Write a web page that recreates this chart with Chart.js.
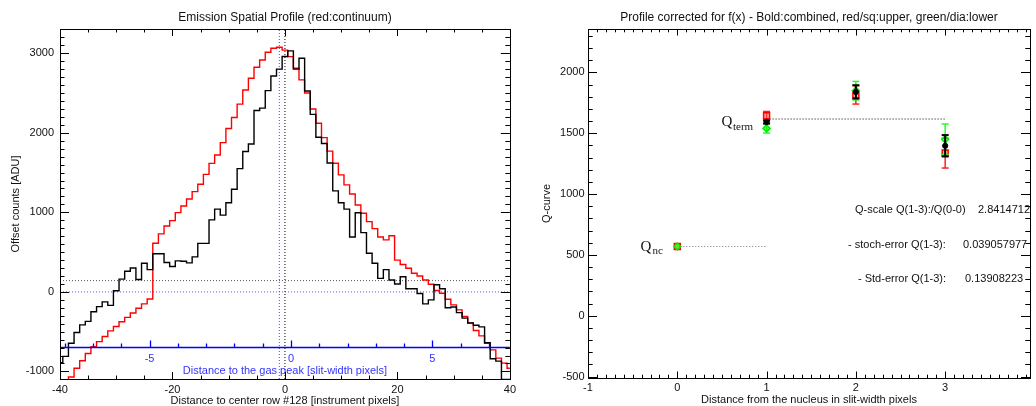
<!DOCTYPE html>
<html><head><meta charset="utf-8">
<script src="https://cdn.jsdelivr.net/npm/chart.js@4.4.1/dist/chart.umd.min.js"></script>
<style>
html,body{margin:0;padding:0;background:#fff;}
#wrap{position:relative;width:1036px;height:406px;overflow:hidden;background:#fff;}
#c1{position:absolute;left:0;top:0;}
#c2{position:absolute;left:520px;top:0;}
</style></head><body>
<div id="wrap"><canvas id="c1" width="520" height="406"></canvas><canvas id="c2" width="516" height="406"></canvas></div>
<script>
// ---------------- data: left panel ----------------
const rowOffsets = [-40,-39,-38,-37,-36,-35,-34,-33,-32,-31,-30,-29,-28,-27,-26,-25,-24,-23,-22,-21,
  -20,-19,-18,-17,-16,-15,-14,-13,-12,-11,-10,-9,-8,-7,-6,-5,-4,-3,-2,-1,
  0,1,2,3,4,5,6,7,8,9,10,11,12,13,14,15,16,17,18,19,20,21,22,23,24,25,26,27,28,29,
  30,31,32,33,34,35,36,37,38,39,40];
const emissionCounts = [-890,-810,-645,-510,-415,-370,-250,-185,-125,-170,
  15,160,260,300,155,360,280,480,480,370,
  320,390,385,365,440,610,610,905,1040,965,
  1120,1290,1550,1765,1860,2280,2310,2530,2715,2800,
  2960,3030,2800,2937,2525,2232,1945,1865,1620,1270,
  1120,1040,690,995,745,486,360,170,280,150,
  100,190,40,40,-20,-150,-100,90,40,-200,
  -190,-260,-330,-390,-420,-440,-640,-840,-870,-1100,
  -1100];
const continuumCounts = [-1200,-1140,-1070,-960,-865,-775,-690,-625,-560,-490,
  -435,-375,-320,-265,-205,-150,-90,611,729,829,
  896,997,1080,1168,1260,1353,1478,1616,1721,1876,
  2055,2193,2361,2538,2685,2824,2916,3013,3063,3076,
  3040,2958,2811,2665,2500,2300,2120,1940,1770,1617,
  1471,1345,1230,1093,989,884,795,690,654,705,
  400,345,297,234,200,150,96,17,-17,-92,
  -163,-226,-310,-394,-486,-553,-645,-729,-833,-896,
  -959];
const profileXTicks = [-40,-20,0,20,40];
const profileYTicks = [-1000,0,1000,2000,3000];
const gasPeakTicks = [-5,0,5];
const centerRow = 0;
const gasPeakRow = -1;
const backgroundLevel = 142;
const zeroLevel = 0;
const gasAxisLevel = -695;

// ---------------- data: right panel ----------------
const nucleusDist = [0,1,2,3];
const qUpper = [569,1644,1815,1337];
const qUpperErr = [0,35,75,123];
const qLower = [569,1540,1850,1450];
const qLowerErr = [0,38,76,126];
const qCombined = [null,1592,1840,1397];
const qCombinedErr = [0,12,55,88];
const qTermLevel = 1617;
const qNcLevel = 569;
const qXTicks = [-1,0,1,2,3];
const qYTicks = [-500,0,500,1000,1500,2000];
const qStats = [
  ['Q-scale Q(1-3):/Q(0-0)', '2.8414712'],
  ['- stoch-error Q(1-3):', '0.039057977'],
  ['- Std-error Q(1-3):', '0.13908223']
];

// ---------------- common ----------------
const FONT = "'Liberation Sans', Arial, Helvetica, sans-serif";
const SERIF = "'Liberation Serif', 'Times New Roman', serif";
Chart.defaults.font.family = FONT;
Chart.defaults.font.size = 11;
Chart.defaults.color = '#111';
const plainNum = v => String(v);

const framePlugin = {
  id: 'frame',
  afterDraw(chart, args, o) {
    const {ctx, chartArea: a} = chart;
    const xs = chart.scales.x, ys = chart.scales.y;
    ctx.save();
    ctx.strokeStyle = '#000';
    ctx.lineWidth = 1;
    ctx.strokeRect(Math.round(a.left) + 0.5, Math.round(a.top) + 0.5,
                   Math.round(a.right - a.left), Math.round(a.bottom - a.top));
    ctx.beginPath();
    const walk = (scale, minor, ratio, cb) => {
      const k0 = Math.ceil(scale.min / minor - 1e-9), k1 = Math.floor(scale.max / minor + 1e-9);
      for (let k = k0; k <= k1; k++) cb(scale.getPixelForValue(k * minor), (k % ratio) === 0);
    };
    walk(xs, o.xMinor, o.xRatio, (p, major) => {
      const L = major ? o.xMajorLen : o.xMinorLen, px = Math.round(p) + 0.5;
      ctx.moveTo(px, a.bottom); ctx.lineTo(px, a.bottom - L);
      ctx.moveTo(px, a.top); ctx.lineTo(px, a.top + L);
    });
    walk(ys, o.yMinor, o.yRatio, (p, major) => {
      const L = major ? o.yMajorLen : o.yMinorLen, py = Math.round(p) + 0.5;
      ctx.moveTo(a.left, py); ctx.lineTo(a.left + L, py);
      ctx.moveTo(a.right, py); ctx.lineTo(a.right - L, py);
    });
    ctx.stroke();
    ctx.restore();
  }
};

const textPlugin = {
  id: 'texts',
  afterDraw(chart, args, o) {
    const ctx = chart.ctx;
    (o.items || []).forEach(it => {
      ctx.save();
      ctx.font = it.font; ctx.fillStyle = it.color || '#111';
      ctx.textAlign = it.align || 'left'; ctx.textBaseline = 'alphabetic';
      ctx.fillText(it.text, it.x, it.y);
      ctx.restore();
    });
  }
};

const gasAxisPlugin = {
  id: 'gasAxis',
  afterDatasetsDraw(chart, args, o) {
    const {ctx, chartArea: a} = chart;
    const s = chart.scales.x2, ys = chart.scales.y;
    const y = Math.round(ys.getPixelForValue(o.level)) + 0.5;
    ctx.save();
    ctx.strokeStyle = '#0000ff'; ctx.lineWidth = 1.3;
    ctx.beginPath();
    ctx.moveTo(a.left, y); ctx.lineTo(a.right, y);
    for (let k = Math.ceil(s.min); k <= Math.floor(s.max); k++) {
      const px = Math.round(s.getPixelForValue(k)) + 0.5;
      const L = (k % 5 === 0) ? 7 : 4;
      ctx.moveTo(px, y); ctx.lineTo(px, y - L);
    }
    ctx.stroke();
    ctx.fillStyle = '#3333ff';
    ctx.font = '11px ' + FONT;
    ctx.textAlign = 'center'; ctx.textBaseline = 'middle';
    o.ticks.forEach(v => ctx.fillText(String(v), s.getPixelForValue(v), y + 11));
    ctx.fillText(o.title, (a.left + a.right) / 2, y + 23);
    ctx.restore();
  }
};

function dotted(points, color) {
  return {data: points, borderColor: color, borderWidth: 1, borderDash: [1, 2],
          pointRadius: 0, fill: false, stepped: false};
}

// ---------------- left chart ----------------
const leftYMin = -1095, leftYMax = 3305;
const gasScaleA = 1.07, gasScaleB = 5.03; // instrument px = A + B * slit px
new Chart(document.getElementById('c1'), {
  type: 'line',
  data: {
    datasets: [
      {data: rowOffsets.map((x, i) => ({x, y: emissionCounts[i]})), borderColor: '#000',
       borderWidth: 1.4, pointRadius: 0, stepped: 'middle'},
      {data: rowOffsets.map((x, i) => ({x, y: continuumCounts[i]})), borderColor: '#ff0000',
       borderWidth: 1.4, pointRadius: 0, stepped: 'middle'},
      dotted([{x: centerRow, y: leftYMin}, {x: centerRow, y: leftYMax}], '#000'),
      dotted([{x: gasPeakRow, y: leftYMin}, {x: gasPeakRow, y: leftYMax}], '#4444ff'),
      dotted([{x: -40, y: backgroundLevel}, {x: 40, y: backgroundLevel}], '#555'),
      dotted([{x: -40, y: zeroLevel}, {x: 40, y: zeroLevel}], '#5555ff')
    ]
  },
  options: {
    responsive: false, animation: false, events: [],
    layout: {padding: {top: 0, right: 10, left: 0, bottom: 0}},
    scales: {
      x: {type: 'linear', min: -40, max: 40,
          grid: {display: false, drawTicks: false}, border: {display: false},
          ticks: {padding: 4, maxRotation: 0, autoSkip: false, font: {size: 11}, callback: plainNum},
          afterBuildTicks: s => { s.ticks = profileXTicks.map(v => ({value: v})); },
          afterFit: s => { s.height = 27; },
          title: {display: true, text: 'Distance to center row #128 [instrument pixels]',
                  font: {size: 11}, padding: {top: 0, bottom: -2}}},
      x2: {type: 'linear', axis: 'x', display: false,
           min: (-40 - gasScaleA) / gasScaleB, max: (40 - gasScaleA) / gasScaleB},
      y: {type: 'linear', min: leftYMin, max: leftYMax,
          grid: {display: false, drawTicks: false}, border: {display: false},
          ticks: {padding: 6, autoSkip: false, font: {size: 11}, callback: plainNum},
          afterBuildTicks: s => { s.ticks = profileYTicks.map(v => ({value: v})); },
          afterFit: s => { s.width = 60; },
          title: {display: true, text: 'Offset counts [ADU]', font: {size: 11},
                  padding: {top: 9.6, bottom: 0}}}
    },
    plugins: {
      legend: {display: false}, tooltip: {enabled: false},
      title: {display: true, text: 'Emission Spatial Profile (red:continuum)', fullSize: false,
              font: {size: 12, weight: 'normal'}, color: '#111', padding: {top: 10.8, bottom: 3.8}},
      frame: {xMinor: 5, xRatio: 4, xMajorLen: 7, xMinorLen: 3.5,
              yMinor: 100, yRatio: 10, yMajorLen: 9, yMinorLen: 4.5},
      gasAxis: {level: gasAxisLevel, ticks: gasPeakTicks,
                title: 'Distance to the gas peak [slit-width pixels]'}
    }
  },
  plugins: [gasAxisPlugin, framePlugin]
});

// ---------------- right chart ----------------
function errorSets(vals, errs, color, width, capR) {
  const sets = [];
  nucleusDist.forEach((x, i) => {
    if (vals[i] == null || !errs[i]) return;
    const lo = vals[i] - errs[i], hi = vals[i] + errs[i];
    sets.push({data: [{x, y: lo}, {x, y: hi}], borderColor: color, borderWidth: width,
               pointRadius: capR, pointStyle: 'line', pointBorderColor: color,
               pointBorderWidth: width, showLine: true});
  });
  return sets;
}
function markerSet(vals, style, r, border, fillc, bw) {
  const pts = [];
  nucleusDist.forEach((x, i) => { if (vals[i] != null) pts.push({x, y: vals[i]}); });
  return {data: pts, showLine: false, pointStyle: style, pointRadius: r,
          pointBorderColor: border, pointBackgroundColor: fillc, pointBorderWidth: bw,
          borderColor: border};
}

new Chart(document.getElementById('c2'), {
  type: 'line',
  data: {
    datasets: [
      markerSet(qCombined, 'circle', 2.6, '#000', '#000', 1),
      ...errorSets(qCombined, qCombinedErr, '#000', 2, 3.5),
      markerSet(qLower, 'rectRot', 3.5, '#00ee00', 'rgba(0,255,0,0.55)', 1.5),
      ...errorSets(qLower, qLowerErr, '#22ff22', 1.5, 3.5),
      markerSet(qUpper, 'rect', 4.2, '#ff0000', 'rgba(255,80,80,0.45)', 1.5),
      ...errorSets(qUpper, qUpperErr, '#ff2020', 1.5, 3.5),
      dotted([{x: 1, y: qTermLevel}, {x: 3, y: qTermLevel}], '#000'),
      dotted([{x: 0, y: qNcLevel}, {x: 1, y: qNcLevel}], '#777')
    ]
  },
  options: {
    responsive: false, animation: false, events: [],
    layout: {padding: {top: 0, right: 1, left: 0, bottom: 0}},
    scales: {
      x: {type: 'linear', min: -1, max: 3.95,
          grid: {display: false, drawTicks: false}, border: {display: false},
          ticks: {padding: 3, maxRotation: 0, autoSkip: false, font: {size: 11}, callback: plainNum},
          afterBuildTicks: s => { s.ticks = qXTicks.map(v => ({value: v})); },
          afterFit: s => { s.height = 28; },
          title: {display: true, text: 'Distance from the nucleus in slit-width pixels',
                  font: {size: 11}, padding: {top: 0, bottom: -0.6}}},
      y: {type: 'linear', min: -512, max: 2357,
          grid: {display: false, drawTicks: false}, border: {display: false},
          ticks: {padding: 3.5, autoSkip: false, font: {size: 11}, callback: plainNum},
          afterBuildTicks: s => { s.ticks = qYTicks.map(v => ({value: v})); },
          afterFit: s => { s.width = 68; },
          title: {display: true, text: 'Q-curve', font: {size: 11},
                  padding: {top: 20.1, bottom: 0}}}
    },
    plugins: {
      legend: {display: false}, tooltip: {enabled: false},
      title: {display: true, fullSize: false,
              text: 'Profile corrected for f(x) - Bold:combined, red/sq:upper, green/dia:lower',
              font: {size: 12, weight: 'normal'}, color: '#111', padding: {top: 10.8, bottom: 3.8}},
      frame: {xMinor: 0.1, xRatio: 10, xMajorLen: 6.5, xMinorLen: 3.3,
              yMinor: 100, yRatio: 5, yMajorLen: 9, yMinorLen: 4.7},
      texts: {items: [
        {text: 'Q', x: 201.5, y: 126, font: '15px ' + SERIF},
        {text: 'term', x: 213, y: 129.5, font: '11px ' + SERIF},
        {text: 'Q', x: 120.5, y: 250.5, font: '15px ' + SERIF},
        {text: 'nc', x: 132.5, y: 253.5, font: '11px ' + SERIF},
        {text: qStats[0][0], x: 335, y: 212.5, font: '11px ' + FONT},
        {text: qStats[0][1], x: 458, y: 212.5, font: '11px ' + FONT},
        {text: qStats[1][0], x: 328, y: 247.5, font: '11px ' + FONT},
        {text: qStats[1][1], x: 443, y: 247.5, font: '11px ' + FONT},
        {text: qStats[2][0], x: 338, y: 281.5, font: '11px ' + FONT},
        {text: qStats[2][1], x: 445, y: 281.5, font: '11px ' + FONT}
      ]}
    }
  },
  plugins: [framePlugin, textPlugin]
});
</script>
</body></html>
